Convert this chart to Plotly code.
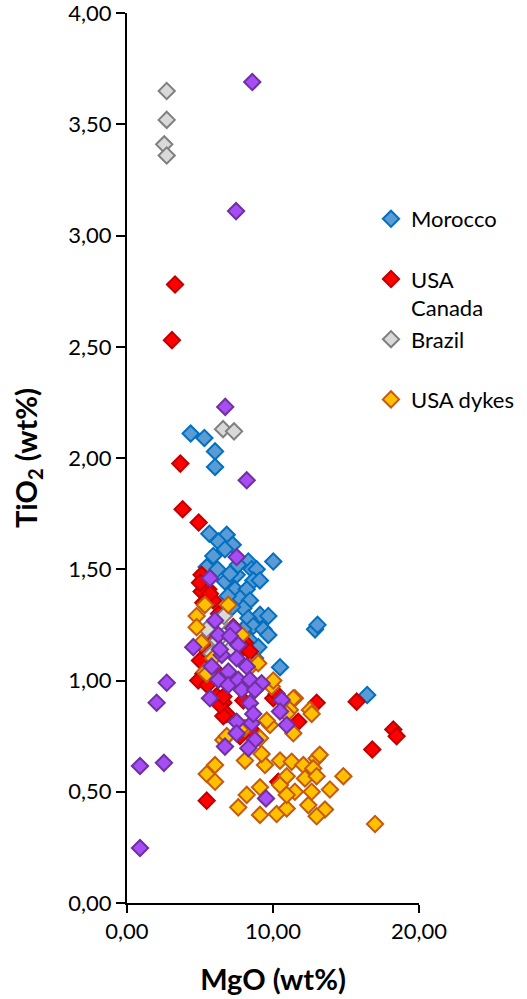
import plotly.graph_objects as go

# ---- data (MgO wt%, TiO2 wt%) ----
morocco_mgo = [4.36, 5.30, 6.03, 6.03, 5.64, 6.83, 6.26, 7.24, 5.91, 6.71, 10.02, 8.31, 8.54, 8.88,
               7.51, 6.71, 8.65, 7.40, 8.20, 7.74, 8.42, 7.97, 9.11, 8.31, 9.68, 8.65, 9.34, 9.68,
               7.97, 5.46, 12.88, 13.05, 8.42, 10.48, 8.77, 16.45, 7.05, 6.20, 9.10, 7.60,
               7.20, 8.00, 9.00, 6.90]
morocco_tio2 = [2.11, 2.09, 2.03, 1.96, 1.66, 1.655, 1.625, 1.61, 1.56, 1.59, 1.535, 1.535, 1.50, 1.50,
                1.475, 1.445, 1.45, 1.41, 1.41, 1.37, 1.36, 1.325, 1.295, 1.28, 1.29, 1.245, 1.23, 1.205,
                1.23, 1.51, 1.23, 1.25, 1.18, 1.06, 1.10, 0.935, 1.48, 1.50, 1.45, 1.52,
                1.33, 1.17, 1.15, 1.38]

usa_mgo = [3.29, 3.08, 3.65, 3.81, 4.91, 5.11, 5.57, 5.11, 5.91, 5.23, 5.68, 5.00, 7.28, 8.08,
           7.97, 8.42, 5.00, 5.23, 4.88, 6.14, 6.60, 6.83, 6.60, 7.74, 6.37, 6.60, 7.97, 10.02,
           10.25, 12.99, 11.73, 15.73, 18.24, 18.47, 16.80, 5.46, 10.36, 5.60, 5.30, 6.00,
           5.50, 8.50, 7.20, 6.30]
usa_tio2 = [2.78, 2.53, 1.975, 1.77, 1.71, 1.475, 1.41, 1.40, 1.36, 1.35, 1.39, 1.44, 1.24, 1.17,
            1.15, 1.13, 1.09, 1.03, 1.00, 0.93, 0.90, 0.85, 0.84, 0.75, 0.89, 0.928, 0.91, 0.92,
            0.94, 0.90, 0.815, 0.905, 0.78, 0.75, 0.69, 0.46, 0.545, 1.20, 1.15, 1.05,
            0.98, 0.78, 1.00, 1.30]

brazil_mgo = [2.72, 2.72, 2.55, 2.72, 6.58, 7.33, 6.64, 5.46, 5.80, 7.05, 6.20, 6.90]
brazil_tio2 = [3.65, 3.52, 3.41, 3.36, 2.13, 2.12, 1.29, 1.23, 1.12, 1.14, 1.18, 1.22]

dykes_mgo = [5.34, 6.94, 4.77, 4.77, 7.85, 5.34, 5.46, 8.42, 8.99, 9.91, 10.02, 11.50, 11.39, 12.53,
             11.16, 10.94, 11.39, 9.79, 9.57, 8.08, 9.11, 6.60, 6.83, 7.74, 12.65,
             6.03, 5.46, 6.03, 8.20, 9.11, 7.62, 9.11, 10.25, 10.94, 10.48, 11.28, 12.08, 12.99,
             12.76, 10.94, 12.19, 12.99, 14.82, 13.90, 11.50, 10.48, 10.94, 12.65, 12.42, 13.56,
             12.99, 16.99, 9.45, 13.20, 8.08, 9.22, 5.10, 5.90]
dykes_tio2 = [1.34, 1.34, 1.29, 1.24, 1.205, 1.04, 1.03, 1.06, 1.078, 0.973, 1.00, 0.92, 0.92, 0.868,
              0.868, 0.85, 0.763, 0.80, 0.82, 0.786, 0.741, 0.733, 0.75, 0.78, 0.85,
              0.62, 0.58, 0.545, 0.486, 0.52, 0.43, 0.396, 0.40, 0.425, 0.64, 0.635, 0.62, 0.65,
              0.605, 0.57, 0.56, 0.57, 0.57, 0.51, 0.50, 0.53, 0.486, 0.50, 0.44, 0.42,
              0.39, 0.355, 0.62, 0.666, 0.64, 0.67, 1.17, 1.10]

other_mgo = [8.58, 7.47, 6.73, 8.20, 7.51, 5.68, 6.03, 7.28, 6.26, 4.54, 7.62, 6.49, 7.51, 5.80,
             6.94, 8.20, 6.26, 6.94, 7.62, 8.42, 9.22, 5.68, 7.85, 8.77, 8.42, 10.60, 10.48, 10.94,
             7.51, 8.54, 7.51, 8.77, 8.31, 6.71, 9.52, 2.72, 2.03, 0.89, 0.89, 2.53, 6.37, 7.05, 8.65]
other_tio2 = [3.69, 3.11, 2.23, 1.90, 1.555, 1.46, 1.27, 1.235, 1.205, 1.15, 1.16, 1.115, 1.10, 1.063,
              1.04, 1.063, 1.003, 0.98, 1.003, 1.003, 0.988, 0.92, 0.958, 0.958, 0.898, 0.913, 0.861, 0.80,
              0.815, 0.808, 0.763, 0.733, 0.696, 0.703, 0.47, 0.99, 0.90, 0.247, 0.616, 0.63, 1.14, 1.20, 0.85]

x_ticks = [0, 10, 20]
y_ticks = [0, 0.5, 1.0, 1.5, 2.0, 2.5, 3.0, 3.5, 4.0]

FONT = "Lato"
MS = 12.5

series = [
    ("Morocco<br> ", morocco_mgo, morocco_tio2, "#5B9BD5", "#0070C0", True),
    ("USA<br>Canada", usa_mgo, usa_tio2, "#FF0000", "#C00000", True),
    ("Brazil<br> ", brazil_mgo, brazil_tio2, "#D9D9D9", "#808080", True),
    ("USA dykes", dykes_mgo, dykes_tio2, "#FFC000", "#C55A11", True),
    ("other", other_mgo, other_tio2, "#A64DF5", "#7030A0", False),
]

W, H = 527, 999
ML, MR, MT, MB = 127, 5, 13, 96
PW = W - ML - MR          # paper width in px
PLOT_W = 292              # axis width in px
PH = H - MT - MB

fig = go.Figure()
for i, (name, xs, ys, fill, line, show) in enumerate(series):
    fig.add_trace(go.Scatter(
        x=xs, y=ys, mode="markers", name=name, showlegend=show,
        legendgroup=f"g{i}",
        marker=dict(symbol="diamond", size=MS, color=fill,
                    line=dict(color=line, width=2)),
        hoverinfo="skip",
    ))

fig.update_layout(
    width=W, height=H,
    margin=dict(l=ML, r=MR, t=MT, b=MB, autoexpand=False),
    paper_bgcolor="white", plot_bgcolor="white",
    separators=", ",
    font=dict(family=FONT, size=22, color="black"),
    showlegend=True,
    legend=dict(x=(371 - ML) / PW, xanchor="left",
                y=1 - (198 - MT) / PH, yanchor="top",
                font=dict(family=FONT, size=22, color="black"),
                valign="top", tracegroupgap=0, itemwidth=30,
                bgcolor="rgba(0,0,0,0)"),
)
fig.update_xaxes(
    domain=[0, PLOT_W / PW],
    range=[0, 20], tickvals=x_ticks, tickformat=".2f",
    showgrid=False, zeroline=False, showline=True, linecolor="black", linewidth=2,
    ticks="outside", ticklen=8, tickwidth=2, tickcolor="black",
    tickfont=dict(family=FONT, size=22), ticklabeloverflow="allow",
    title=dict(text="<b>MgO (wt%)</b>", font=dict(family=FONT, size=29), standoff=26),
)
fig.update_yaxes(
    range=[0, 4.0005], tickvals=y_ticks, tickformat=".2f",
    showgrid=False, zeroline=False, showline=True, linecolor="black", linewidth=2,
    ticks="outside", ticklen=9, tickwidth=2, tickcolor="black",
    tickfont=dict(family=FONT, size=22), ticklabeloverflow="allow",
    title=dict(text="<b>TiO<sub>2</sub> (wt%)</b>", font=dict(family=FONT, size=29), standoff=22),
)

fig.write_html("out.html")
